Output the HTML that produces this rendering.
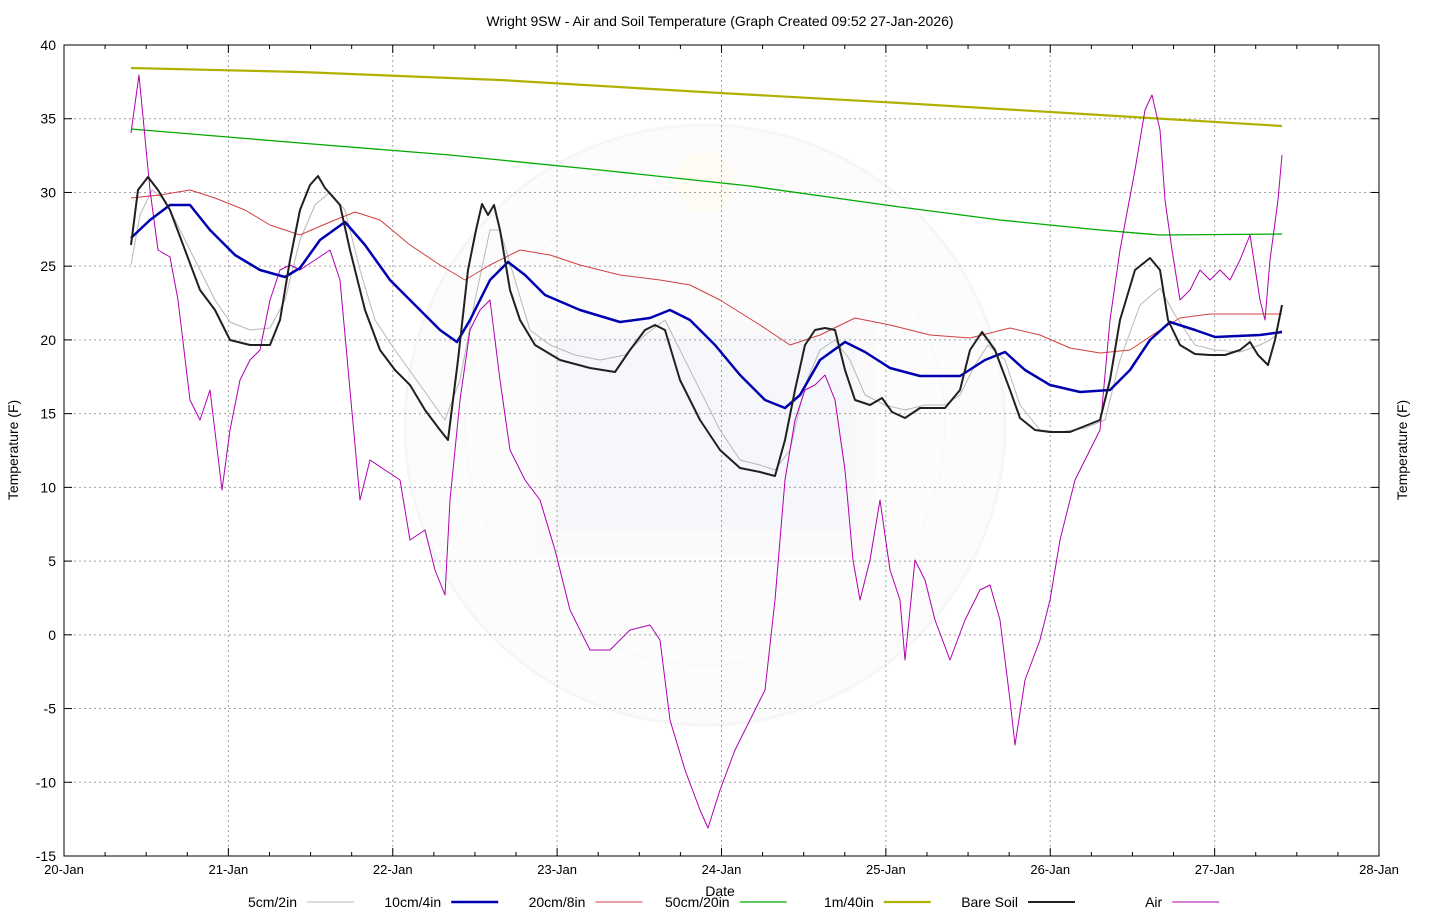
<!DOCTYPE html>
<html><head><meta charset="utf-8"><style>
body{margin:0;background:#fff;}
svg{display:block;font-family:"Liberation Sans",sans-serif;}
</style></head><body>
<svg id="chart" width="1440" height="920">
<g id="wm" opacity="0.35">
<circle cx="705" cy="425" r="300" fill="#f7f8fb" stroke="#e6e8ee" stroke-width="3"/>
<circle cx="705" cy="425" r="240" fill="none" stroke="#eceef3" stroke-width="2"/>
<rect x="535" y="320" width="340" height="235" fill="#f6eeee"/>
<rect x="555" y="335" width="300" height="195" fill="#e7ebf3"/>
<circle cx="705" cy="182" r="30" fill="#fbf6dc"/>
</g>
<g id="grid"></g>
<rect x="64" y="45" width="1315" height="811" fill="none" stroke="#000" stroke-width="1"/>
<g id="axes"></g>
<g id="series"></g>
<text x="720" y="26" text-anchor="middle" font-size="14">Wright 9SW - Air and Soil Temperature (Graph Created 09:52 27-Jan-2026)</text>
<text x="720" y="896" text-anchor="middle" font-size="14">Date</text>
<text transform="translate(18,450) rotate(-90)" text-anchor="middle" font-size="14">Temperature (F)</text>
<text transform="translate(1407,450) rotate(-90)" text-anchor="middle" font-size="14">Temperature (F)</text>
<g id="legend"></g>
</svg>
<script>
const xTickLabels=["20-Jan","21-Jan","22-Jan","23-Jan","24-Jan","25-Jan","26-Jan","27-Jan","28-Jan"];
const yTickValues=[-15,-10,-5,0,5,10,15,20,25,30,35,40];
const seriesNames=["5cm/2in","10cm/4in","20cm/8in","50cm/20in","1m/40in","Bare Soil","Air"];
const airPx=[[131,133],[139,75],[150,190],[158,250],[170,257],[178,300],[190,400],[200,420],[210,390],[222,490],[230,430],[240,380],[250,360],[260,350],[270,300],[280,270],[290,265],[300,270],[315,260],[330,250],[340,280],[350,390],[360,500],[370,460],[385,470],[400,480],[410,540],[425,530],[435,570],[445,595],[450,500],[460,400],[470,330],[480,310],[490,300],[500,380],[510,450],[525,480],[540,500],[555,550],[570,610],[590,650],[610,650],[630,630],[650,625],[660,640],[670,720],[685,770],[700,810],[708,828],[720,790],[735,750],[750,720],[765,690],[775,600],[785,480],[795,420],[805,390],[815,385],[825,375],[835,400],[845,470],[853,560],[860,600],[870,560],[880,500],[890,570],[900,600],[905,660],[915,560],[925,580],[935,620],[950,660],[965,620],[980,590],[990,585],[1000,620],[1010,700],[1015,745],[1025,680],[1040,640],[1050,600],[1060,540],[1075,480],[1090,450],[1100,430],[1110,320],[1120,250],[1135,170],[1145,110],[1152,95],[1160,130],[1165,200],[1172,250],[1180,300],[1190,290],[1200,270],[1210,280],[1220,270],[1230,280],[1240,260],[1250,235],[1260,300],[1265,320],[1270,260],[1278,200],[1282,155]];
const bareSoilPx=[[131,245],[138,190],[148,177],[158,190],[170,210],[185,250],[200,290],[215,310],[230,340],[250,345],[270,345],[280,320],[290,260],[300,210],[310,185],[318,176],[325,188],[340,205],[350,250],[365,310],[380,350],[395,370],[410,385],[425,410],[440,430],[448,440],[458,360],[468,270],[476,230],[482,204],[488,215],[494,205],[500,230],[510,290],[520,320],[535,345],[560,360],[590,368],[615,372],[630,350],[645,330],[655,325],[665,330],[680,380],[700,420],[720,450],[740,468],[760,472],[775,476],[785,440],[795,390],[805,345],[815,330],[825,328],[835,330],[845,370],[855,400],[870,405],[882,398],[892,412],[905,418],[920,408],[945,408],[960,390],[970,350],[982,332],[995,350],[1010,390],[1020,418],[1035,430],[1050,432],[1070,432],[1085,426],[1100,420],[1110,380],[1120,320],[1135,270],[1150,258],[1160,270],[1168,320],[1180,345],[1195,354],[1210,355],[1225,355],[1240,350],[1250,342],[1258,355],[1268,365],[1275,340],[1282,305]];
const cm5Px=[[131,265],[140,215],[152,190],[165,200],[180,230],[200,270],[215,300],[230,322],[250,330],[270,328],[285,300],[300,240],[315,205],[330,192],[345,210],[360,270],[375,320],[395,350],[420,385],[445,420],[460,380],[475,300],[490,230],[500,230],[515,280],[530,330],[550,345],[575,355],[600,360],[625,355],[645,335],[665,320],[680,350],[700,390],[720,430],[740,460],[760,465],[775,470],[790,450],[805,385],[820,350],[835,340],[850,360],[865,395],[885,405],[905,410],[925,405],[945,405],[960,395],[975,365],[988,345],[1005,360],[1020,405],[1040,430],[1060,432],[1085,428],[1105,420],[1120,360],[1140,305],[1160,288],[1175,315],[1195,345],[1215,350],[1240,352],[1260,345],[1270,340],[1282,330]];
const cm10Px=[[131,238],[150,220],[170,205],[190,205],[210,230],[235,255],[260,270],[285,277],[300,268],[320,240],[345,222],[365,245],[390,280],[420,310],[440,330],[457,342],[470,320],[490,280],[508,262],[525,275],[545,295],[580,310],[620,322],[650,318],[670,310],[690,320],[715,345],[740,375],[765,400],[785,408],[800,395],[820,360],[845,342],[865,352],[890,368],[920,376],[960,376],[985,360],[1005,352],[1025,370],[1050,385],[1080,392],[1110,390],[1130,370],[1150,340],[1170,322],[1195,330],[1215,337],[1260,335],[1282,332]];
const cm20Px=[[131,198],[160,195],[190,190],[215,198],[245,210],[270,225],[300,235],[330,222],[355,212],[380,220],[410,245],[440,265],[465,280],[490,265],[520,250],[550,255],[580,265],[620,275],[660,280],[690,285],[720,300],[760,325],[790,345],[820,335],[855,318],[890,325],[930,335],[970,338],[1010,328],[1040,335],[1070,348],[1100,353],[1130,350],[1160,330],[1180,318],[1210,314],[1282,314]];
const cm50Px=[[131,129],[300,143],[450,155],[600,170],[750,186],[900,207],[1000,220],[1100,230],[1160,235],[1282,234]];
const m1Px=[[131,68],[300,72],[500,80],[720,93],[900,103],[1100,115],[1282,126]];
const X0=64,X1=1379,Y0=45,Y1=856,DAYS=8,VMIN=-15,VMAX=40;
function xs(d){return X0+(d/DAYS)*(X1-X0);}
function ys(v){return Y1-(v-VMIN)/(VMAX-VMIN)*(Y1-Y0);}
function toData(a){return a.map(p=>[(p[0]-X0)/(X1-X0)*DAYS, VMAX-(p[1]-Y0)/(Y1-Y0)*(VMAX-VMIN)]);}
const airData=toData(airPx),bareData=toData(bareSoilPx),cm5Data=toData(cm5Px),cm10Data=toData(cm10Px),cm20Data=toData(cm20Px),cm50Data=toData(cm50Px),m1Data=toData(m1Px);
const NS="http://www.w3.org/2000/svg";
function mk(t,attrs,parent){const e=document.createElementNS(NS,t);for(const k in attrs)e.setAttribute(k,attrs[k]);parent.appendChild(e);return e;}
const grid=document.getElementById('grid'),axes=document.getElementById('axes');
yTickValues.forEach(v=>{const y=ys(v);
 if(v>VMIN&&v<VMAX){const l=mk('line',{x1:X0,x2:X1,y1:y,y2:y,stroke:'#a0a0a0','stroke-dasharray':'2,3'},grid);
 }
 mk('line',{x1:X0,x2:X0+8,y1:y,y2:y,stroke:'#000'},axes);
 mk('line',{x1:X1,x2:X1-8,y1:y,y2:y,stroke:'#000'},axes);
 const t=mk('text',{x:X0-8,y:y+5,'text-anchor':'end','font-size':'14'},axes);t.textContent=v;
 
});
xTickLabels.forEach((lab,i)=>{const x=xs(i);
 if(i>0&&i<DAYS){const l=mk('line',{x1:x,x2:x,y1:Y0,y2:Y1,stroke:'#a0a0a0','stroke-dasharray':'2,3'},grid);
 }
 mk('line',{x1:x,x2:x,y1:Y1,y2:Y1-8,stroke:'#000'},axes);
 mk('line',{x1:x,x2:x,y1:Y0,y2:Y0+8,stroke:'#000'},axes);
 if(i<DAYS)for(let q=1;q<4;q++){const xm=xs(i+q/4);mk('line',{x1:xm,x2:xm,y1:Y1,y2:Y1-4,stroke:'#000'},axes);mk('line',{x1:xm,x2:xm,y1:Y0,y2:Y0+4,stroke:'#000'},axes);}
 const t=mk('text',{x:x,y:Y1+18,'text-anchor':'middle','font-size':'13'},axes);t.textContent=lab;
 
});
const ser=document.getElementById('series');
const defs=[[cm5Data,'#b8b8b8',1,'series-5cm'],[cm20Data,'#d04040',1,'series-20cm'],[cm50Data,'#00aa00',1.3,'series-50cm'],[m1Data,'#b0b000',2.2,'series-1m'],[airData,'#b000b0',1,'series-air'],[cm10Data,'#0000b0',2.5,'series-10cm'],[bareData,'#202020',2,'series-bare-soil']];
defs.forEach(d=>{const pts=d[0].map(p=>xs(p[0]).toFixed(1)+','+ys(p[1]).toFixed(1)).join(' ');
 const pl=mk('polyline',{points:pts,fill:'none',stroke:d[1],'stroke-width':d[2],'stroke-linejoin':'round'},ser);
 });
const leg=document.getElementById('legend');
const legColors=['#b8b8b8','#0000b0','#d04040','#00aa00','#b0b000','#202020','#b000b0'];
const legWidths=[1,2.5,1,1.3,2.2,2,1];
seriesNames.forEach((n,i)=>{const xe=297+i*144.2;
 const t=mk('text',{x:xe,y:907,'text-anchor':'end','font-size':'14'},leg);t.textContent=n;
 
 const l=mk('line',{x1:xe+10,x2:xe+57,y1:902,y2:902,stroke:legColors[i],'stroke-width':legWidths[i]},leg);
 });
</script>
</body></html>
